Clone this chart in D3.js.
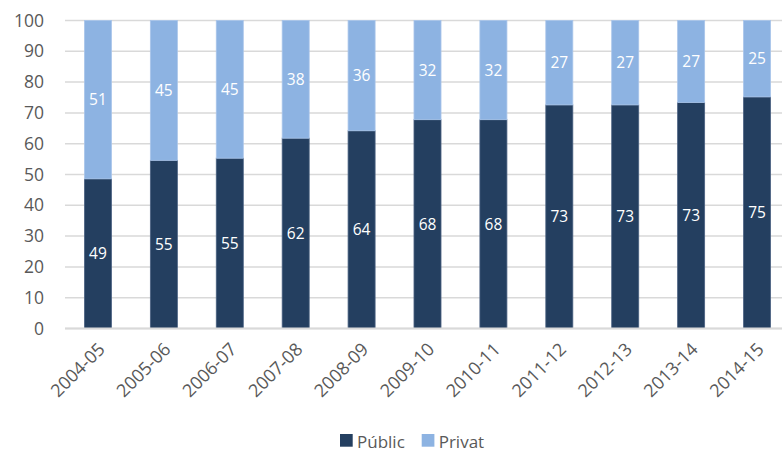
<!DOCTYPE html>
<html>
<head>
<meta charset="utf-8">
<script src="https://cdn.jsdelivr.net/npm/d3@7"></script>
<style>
  html, body { margin: 0; padding: 0; background: #fff; overflow: hidden; }
  svg { display: block; font-family: "Open Sans", sans-serif; }
</style>
</head>
<body>
<svg id="chart" width="782" height="452"></svg>
<script>
const categories = ["2004-05","2005-06","2006-07","2007-08","2008-09","2009-10","2010-11","2011-12","2012-13","2013-14","2014-15"];
const publicValues = [48.6, 54.6, 55.3, 61.8, 64.2, 67.8, 67.8, 72.6, 72.6, 73.4, 75.2];
const privateValues = [51.4, 45.4, 44.7, 38.2, 35.8, 32.2, 32.2, 27.4, 27.4, 26.6, 24.8];
const yTicks = [0,10,20,30,40,50,60,70,80,90,100];
const seriesNames = ["Públic", "Privat"];
const colors = ["#243f60", "#8db3e2"];

const svg = d3.select("#chart");
const mLeft = 65, mRight = 790, mTop = 20.5, mBottom = 328.5;

const x = d3.scaleBand().domain(categories).range([mLeft, mRight]).paddingInner(0.59).paddingOuter(0.295);
const y = d3.scaleLinear().domain([0, 100]).range([mBottom, mTop]);

// gridlines
svg.append("g").selectAll("line").data(yTicks).join("line")
  .attr("x1", mLeft).attr("x2", 782)
  .attr("y1", d => y(d)).attr("y2", d => y(d))
  .attr("stroke", "#d9d9d9").attr("stroke-width", 1.5);

// y axis labels
const yAxis = d3.axisLeft(y).tickValues(yTicks).tickSize(0).tickPadding(0);
const yg = svg.append("g").attr("transform", `translate(${mLeft - 21},0)`).call(yAxis);
yg.select(".domain").remove();
yg.selectAll("text").attr("font-size", 17.5).attr("fill", "#595959")
  .attr("font-family", "Open Sans, sans-serif");

const table = categories.map((c, i) => ({cat: c, "Públic": publicValues[i], "Privat": privateValues[i]}));
const stack = d3.stack().keys(seriesNames)(table);

const groups = svg.append("g").selectAll("g").data(stack).join("g")
  .attr("fill", (d, i) => colors[i]);

groups.selectAll("rect").data(d => d).join("rect")
  .attr("x", d => x(d.data.cat))
  .attr("width", x.bandwidth())
  .attr("y", d => y(d[1]))
  .attr("height", d => y(d[0]) - y(d[1]));

groups.selectAll("rect")
  .attr("stroke", function() { return d3.select(this.parentNode).datum().index === 0 ? "#4b6282" : "#a9c5ea"; })
  .attr("stroke-width", 0.8);

// labels
groups.selectAll("text").data(d => d).join("text")
  .attr("x", d => x(d.data.cat) + x.bandwidth() / 2)
  .attr("y", d => (y(d[0]) + y(d[1])) / 2)
  .attr("dy", "0.36em")
  .attr("text-anchor", "middle")
  .attr("fill", "#ffffff")
  .attr("font-size", 15.5)
  .text(d => d3.format(".0f")(d[1] - d[0]));

// baseline
svg.append("line").attr("x1", mLeft).attr("x2", 782).attr("y1", y(0)).attr("y2", y(0))
  .attr("stroke", "#d9d9d9").attr("stroke-width", 2);

// x axis labels
const xAxis = d3.axisBottom(x).tickSize(0).tickPadding(0);
const xg = svg.append("g").attr("transform", `translate(0,${mBottom})`).call(xAxis);
xg.select(".domain").remove();
xg.selectAll(".tick text")
  .attr("font-size", 18).attr("fill", "#595959")
  .attr("font-family", "Open Sans, sans-serif")
  .attr("text-anchor", "end")
  .attr("dy", null)
  .attr("y", 0)
  .attr("transform", "translate(8,22) rotate(-45)");

// legend
const legend = svg.append("g");
const legendItems = [{name: seriesNames[0], color: colors[0], x: 340}, {name: seriesNames[1], color: colors[1], x: 421.7}];
const li = legend.selectAll("g").data(legendItems).join("g")
  .attr("transform", d => `translate(${d.x},434)`);
li.append("rect").attr("width", 12.7).attr("height", 12.7).attr("fill", d => d.color);
li.append("text").attr("x", 17).attr("y", 13.5).attr("font-size", 17).attr("fill", "#595959").text(d => d.name);
</script>
</body>
</html>
